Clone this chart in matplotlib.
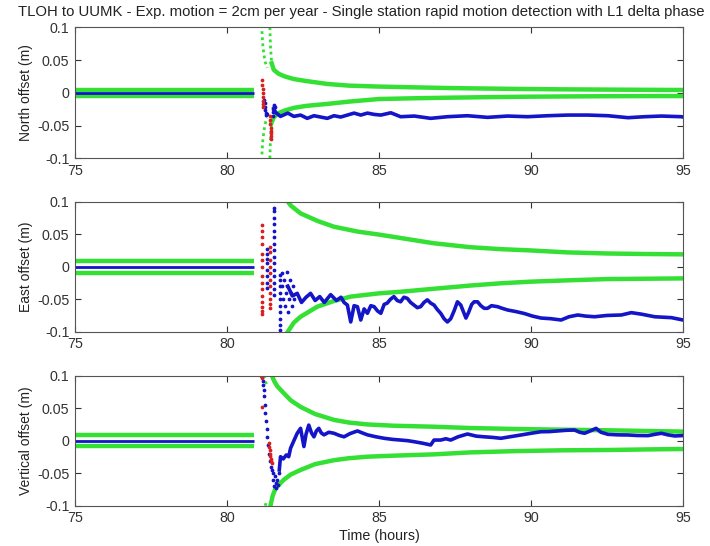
import matplotlib
matplotlib.use("Agg")
import matplotlib.pyplot as plt

plt.rcParams['font.family'] = ['Liberation Sans', 'DejaVu Sans']

GREEN = '#33e033'
BLUE = '#1414c8'
RED = '#d82020'

# ---------------- common ----------------
x_ticks = [75, 80, 85, 90, 95]
y_ticks = [-0.1, -0.05, 0, 0.05, 0.1]
y_ticklabels = ['-0.1', '-0.05', '0', '0.05', '0.1']
title = "TLOH to UUMK - Exp. motion = 2cm per year - Single station rapid motion detection with L1 delta phase"
ylabels = ['North offset (m)', 'East offset (m)', 'Vertical offset (m)']

# steady pre-event segment (start/end time)
flat_t = [75.0, 80.9]

# ---------------- North ----------------
n_flat_blue = [0.0, 0.0]
n_flat_band = [0.0045, 0.0045]

n_pre_t = [81.15, 81.16, 81.18, 81.21, 81.25, 81.32]
n_pre_up = [0.094, 0.085, 0.072, 0.060, 0.048, 0.038]
n_pre_lo = [-0.094, -0.085, -0.072, -0.060, -0.048, -0.038]

n_env_t = [81.41, 81.43, 81.47, 81.54, 81.7, 81.9, 82.2, 82.6, 83.3, 84.0, 85.0, 86.0,
           87.25, 88.5, 89.8, 91.0, 92.5, 94.0, 95.0]
n_env_up = [0.100, 0.070, 0.045, 0.035, 0.029, 0.025, 0.021, 0.018, 0.0135, 0.011, 0.0095,
            0.0085, 0.0073, 0.0065, 0.0058, 0.0053, 0.0049, 0.0045, 0.0043]
n_env_lo = [-0.100, -0.070, -0.045, -0.037, -0.031, -0.027, -0.023, -0.020, -0.017, -0.0135,
            -0.0095, -0.0085, -0.0075, -0.0067, -0.006, -0.0056, -0.0052, -0.005, -0.005]

n_blue_t = [81.54, 81.6, 81.76, 82.0, 82.2, 82.42, 82.64, 82.86, 83.08, 83.3, 83.52, 83.74,
            83.96, 84.18, 84.4, 84.62, 84.84, 85.06, 85.39, 85.71, 86.16, 86.7, 87.25, 87.91,
            88.57, 89.23, 89.89, 90.55, 91.21, 91.87, 92.53, 93.19, 93.74, 94.29, 94.95, 95.0]
n_blue = [-0.024, -0.030, -0.036, -0.031, -0.036, -0.034, -0.039, -0.035, -0.037, -0.039,
          -0.035, -0.037, -0.034, -0.031, -0.034, -0.031, -0.033, -0.034, -0.0305, -0.0365,
          -0.0355, -0.039, -0.0365, -0.035, -0.0375, -0.0355, -0.0365, -0.035, -0.034, -0.034,
          -0.035, -0.038, -0.0365, -0.0355, -0.0365, -0.037]

n_bsc_t = [81.22, 81.24, 81.25, 81.26, 81.27, 81.28, 81.3, 81.5, 81.51, 81.52, 81.53, 81.55, 81.57]
n_bsc = [-0.011, -0.016, -0.022, -0.027, -0.031, -0.034, -0.033, -0.035, -0.030, -0.025,
         -0.020, -0.018, -0.022]
n_red_t = [81.15, 81.16, 81.17, 81.17, 81.18, 81.18, 81.19, 81.2, 81.42, 81.43, 81.43, 81.44,
           81.44, 81.45, 81.45, 81.46]
n_red = [0.019, 0.012, 0.006, 0.0, -0.006, -0.012, -0.017, -0.021, -0.036, -0.042, -0.048,
         -0.053, -0.058, -0.062, -0.066, -0.070]

# ---------------- East ----------------
e_flat_blue = [0.0, 0.0]
e_flat_band = [0.009, 0.009]

e_up_t = [82.0, 82.1, 82.42, 83.0, 83.52, 84.3, 85.06, 86.0, 86.81, 88.0, 89.0, 90.0,
          91.2, 92.53, 93.8, 95.0]
e_up = [0.100, 0.094, 0.082, 0.070, 0.0615, 0.054, 0.049, 0.042, 0.036, 0.030, 0.027,
        0.025, 0.022, 0.0203, 0.0195, 0.019]
e_lo_t = [82.0, 82.2, 82.42, 82.97, 83.5, 84.07, 85.0, 85.72, 87.03, 88.0, 89.01, 90.0,
          91.2, 92.53, 93.8, 95.0]
e_lo = [-0.100, -0.086, -0.077, -0.0615, -0.053, -0.046, -0.041, -0.0385, -0.033, -0.029,
        -0.0255, -0.023, -0.021, -0.019, -0.0185, -0.018]

e_blue_t = [82.0, 82.15, 82.31, 82.45, 82.6, 82.75, 82.9, 83.05, 83.2, 83.41, 83.6, 83.75,
            83.85, 83.96, 84.07, 84.18, 84.29, 84.4, 84.51, 84.62, 84.73, 84.84, 84.95, 85.06,
            85.17, 85.27, 85.38, 85.49, 85.6, 85.71, 85.82, 85.93, 86.04, 86.15, 86.26, 86.37,
            86.48, 86.59, 86.7, 86.81, 86.92, 87.03, 87.14, 87.25, 87.36, 87.47, 87.58, 87.69,
            87.8, 87.86, 87.95, 88.05, 88.13, 88.24, 88.35, 88.46, 88.57, 88.7, 88.9, 89.05,
            89.23, 89.5, 89.78, 90.05, 90.33, 90.65, 90.99, 91.25, 91.54, 91.8, 92.09, 92.5,
            92.97, 93.3, 93.63, 94.07, 94.62, 95.0]
e_blue = [-0.030, -0.045, -0.041, -0.055, -0.047, -0.041, -0.052, -0.046, -0.055, -0.043,
          -0.052, -0.047, -0.055, -0.059, -0.085, -0.060, -0.0615, -0.082, -0.065, -0.0717,
          -0.060, -0.0615, -0.068, -0.0717, -0.058, -0.056, -0.050, -0.046, -0.052, -0.054,
          -0.047, -0.0487, -0.055, -0.059, -0.063, -0.0615, -0.055, -0.051, -0.056, -0.059,
          -0.066, -0.0717, -0.080, -0.085, -0.080, -0.068, -0.054, -0.059, -0.072, -0.079,
          -0.070, -0.058, -0.054, -0.054, -0.060, -0.064, -0.064, -0.060, -0.0615, -0.064,
          -0.0666, -0.069, -0.072, -0.076, -0.079, -0.080, -0.082, -0.077, -0.0743, -0.076,
          -0.077, -0.075, -0.0743, -0.0707, -0.073, -0.077, -0.0784, -0.082]

e_red_t = [81.15] * 15 + [81.43] * 11
e_red = [0.064, 0.055, 0.045, 0.035, 0.020, 0.010, 0.0, -0.015, -0.025, -0.035, -0.045,
         -0.055, -0.062, -0.068, -0.072,
         0.031, 0.022, 0.010, 0.0, -0.010, -0.020, -0.030, -0.040, -0.050, -0.058, -0.064]
e_bsc_t = ([81.3] * 8 + [81.54] * 15 + [81.73] * 10 +
           [81.8, 81.82, 81.85, 81.88, 81.9, 81.93, 81.96, 81.98, 82.0, 82.03, 82.06, 82.1,
            82.13, 82.17, 82.2])
e_bsc = [0.028, 0.020, 0.012, 0.005, -0.005, -0.015, -0.025, -0.033,
         0.090, 0.085, 0.075, 0.065, 0.055, 0.045, 0.035, 0.025, 0.015, 0.005, -0.005,
         -0.015, -0.025, -0.035, -0.044,
         -0.013, -0.020, -0.030, -0.040, -0.050, -0.060, -0.070, -0.080, -0.090, -0.097,
         -0.010, -0.030, -0.050, -0.020, -0.060, -0.040, -0.008, -0.030, -0.069, -0.050,
         -0.020, -0.040, -0.060, -0.030, -0.050]

# ---------------- Vertical ----------------
u_flat_blue = [0.0, 0.0]
u_flat_band = [0.0085, 0.0085]

u_pre_up_t = [81.21, 81.25, 81.3]
u_pre_up = [0.100, 0.094, 0.086]
u_pre_lo_t = [81.25, 81.28, 81.3]
u_pre_lo = [-0.100, -0.097, -0.094]

u_up_t = [81.48, 81.55, 81.65, 81.87, 82.1, 82.42, 82.9, 83.52, 84.0, 84.62, 85.5, 86.81,
          88.0, 89.5, 91.0, 92.53, 94.0, 95.0]
u_up = [0.100, 0.092, 0.084, 0.073, 0.062, 0.052, 0.041, 0.032, 0.028, 0.025, 0.023,
        0.0215, 0.0195, 0.018, 0.017, 0.016, 0.0148, 0.014]
u_lo_t = [81.43, 81.5, 81.6, 81.87, 82.1, 82.42, 82.9, 83.52, 84.0, 84.62, 85.5, 86.81,
          88.0, 89.5, 91.0, 92.53, 94.0, 95.0]
u_lo = [-0.100, -0.085, -0.073, -0.060, -0.052, -0.045, -0.036, -0.030, -0.027, -0.0246,
        -0.023, -0.021, -0.018, -0.016, -0.0148, -0.0143, -0.0133, -0.0128]

u_bsc_t = [81.15, 81.17, 81.19, 81.21, 81.23, 81.25, 81.26, 81.28, 81.3, 81.32, 81.34,
           81.37, 81.4, 81.44, 81.48, 81.5, 81.52, 81.55, 81.58, 81.6, 81.62, 81.65, 81.68, 81.7]
u_bsc = [0.100, 0.092, 0.085, 0.078, 0.068, 0.055, 0.042, 0.030, 0.018, 0.006, -0.007,
         -0.020, -0.032, -0.040, -0.045, -0.050, -0.060, -0.070, -0.055, -0.065, -0.073,
         -0.060, -0.068, -0.050]

u_blue_t = [81.72, 81.76, 81.85, 81.95, 82.03, 82.09, 82.2, 82.31, 82.42, 82.53, 82.6, 82.69,
            82.78, 82.86, 82.94, 83.02, 83.1, 83.19, 83.35, 83.52, 83.7, 83.85, 84.05, 84.29,
            84.45, 84.62, 84.9, 85.17, 85.45, 85.71, 85.95, 86.15, 86.45, 86.7, 86.81, 87.03,
            87.2, 87.36, 87.6, 87.91, 88.2, 88.46, 88.75, 89.01, 89.3, 89.67, 90.0, 90.33,
            90.6, 90.88, 91.15, 91.43, 91.6, 91.76, 91.95, 92.14, 92.3, 92.53, 92.85, 93.19,
            93.5, 93.85, 94.1, 94.29, 94.5, 94.73, 94.95, 95.0]
u_blue = [-0.045, -0.0246, -0.028, -0.022, -0.0246, -0.0117, 0.0, 0.0114, 0.019, -0.009,
          0.010, 0.024, 0.012, 0.006, 0.015, 0.019, 0.012, 0.009, 0.013, 0.0114, 0.008, 0.006,
          0.011, 0.015, 0.012, 0.009, 0.006, 0.0037, 0.002, 0.001, 0.0, -0.0015, -0.004,
          -0.0066, 0.001, 0.001, 0.003, 0.001, 0.006, 0.0103, 0.007, 0.006, 0.005, 0.0037,
          0.006, 0.0088, 0.0114, 0.0138, 0.014, 0.015, 0.016, 0.0165, 0.013, 0.0114, 0.015,
          0.019, 0.013, 0.0098, 0.009, 0.0088, 0.008, 0.0078, 0.010, 0.0114, 0.009, 0.0073,
          0.0078, 0.008]

u_red_t = [81.13, 81.14, 81.15, 81.37, 81.39, 81.4, 81.42, 81.43, 81.45, 81.46, 81.47]
u_red = [0.100, 0.097, 0.052, -0.004, -0.010, -0.015, -0.020, -0.024, -0.028, -0.032, -0.035]

# ---------------- figure ----------------
fig = plt.figure(figsize=(7.1, 5.46), dpi=100)
W, H = 710.0, 546.0
left, right = 75.0, 683.0
axes_px = [(27.3, 158.3), (201.7, 331.7), (375.7, 505.7)]

# number of leading (near-vertical, sparsely sampled) envelope points drawn dotted
panels = [
    dict(flat_blue=n_flat_blue, band=n_flat_band,
         pre=[(n_pre_t, n_pre_up), (n_pre_t, n_pre_lo)],
         env=[(n_env_t, n_env_up), (n_env_t, n_env_lo)], sparse=3,
         blue=(n_blue_t, n_blue), bsc=(n_bsc_t, n_bsc), red=(n_red_t, n_red)),
    dict(flat_blue=e_flat_blue, band=e_flat_band,
         pre=[],
         env=[(e_up_t, e_up), (e_lo_t, e_lo)], sparse=1,
         blue=(e_blue_t, e_blue), bsc=(e_bsc_t, e_bsc), red=(e_red_t, e_red)),
    dict(flat_blue=u_flat_blue, band=u_flat_band,
         pre=[(u_pre_up_t, u_pre_up), (u_pre_lo_t, u_pre_lo)],
         env=[(u_up_t, u_up), (u_lo_t, u_lo)], sparse=1,
         blue=(u_blue_t, u_blue), bsc=(u_bsc_t, u_bsc), red=(u_red_t, u_red)),
]

for i, (p, (top, bot)) in enumerate(zip(panels, axes_px)):
    ax = fig.add_axes([left / W, 1 - bot / H, (right - left) / W, (bot - top) / H])
    # pre-event band
    ax.plot(flat_t, p['band'], color=GREEN, lw=3.2, solid_capstyle='butt')
    ax.plot(flat_t, [-b for b in p['band']], color=GREEN, lw=3.2, solid_capstyle='butt')
    ax.plot(flat_t, p['flat_blue'], color=BLUE, lw=2.0, solid_capstyle='butt')
    # green envelopes
    for t, v in p['pre']:
        ax.plot(t, v, color=GREEN, lw=2.0, linestyle=(0, (1, 1.2)))
    k = p['sparse']
    for t, v in p['env']:
        if k > 1:
            ax.plot(t[:k], v[:k], color=GREEN, lw=2.0, linestyle=(0, (1, 1.2)))
        ax.plot(t[k - 1:], v[k - 1:], color=GREEN, lw=3.2)
    # blue solution
    ax.plot(p['bsc'][0], p['bsc'][1], linestyle='none', marker='.', ms=3.4, color=BLUE)
    ax.plot(p['blue'][0], p['blue'][1], color=BLUE, lw=2.6)
    # red points
    ax.plot(p['red'][0], p['red'][1], linestyle='none', marker='.', ms=3.4, color=RED)

    ax.set_xlim(75, 95)
    ax.set_ylim(-0.1, 0.1)
    ax.set_xticks(x_ticks)
    ax.set_xticklabels([str(x) for x in x_ticks])
    ax.set_yticks(y_ticks)
    ax.set_yticklabels(y_ticklabels)
    ax.tick_params(direction='in', length=4, width=0.8, top=True, right=True,
                   labelsize=10.3, colors='#333333', pad=4)
    for s in ax.spines.values():
        s.set_color('#555555')
        s.set_linewidth(0.8)
    ax.set_ylabel(ylabels[i], fontsize=10, color='#222222', labelpad=3)
    if i == 2:
        ax.set_xlabel('Time (hours)', fontsize=10.3, color='#222222', labelpad=3)

fig.text(361 / W, 1 - 12 / H, title, ha='center', va='center', fontsize=10.75, color='#222222')

fig.savefig('out.png', dpi=100)
